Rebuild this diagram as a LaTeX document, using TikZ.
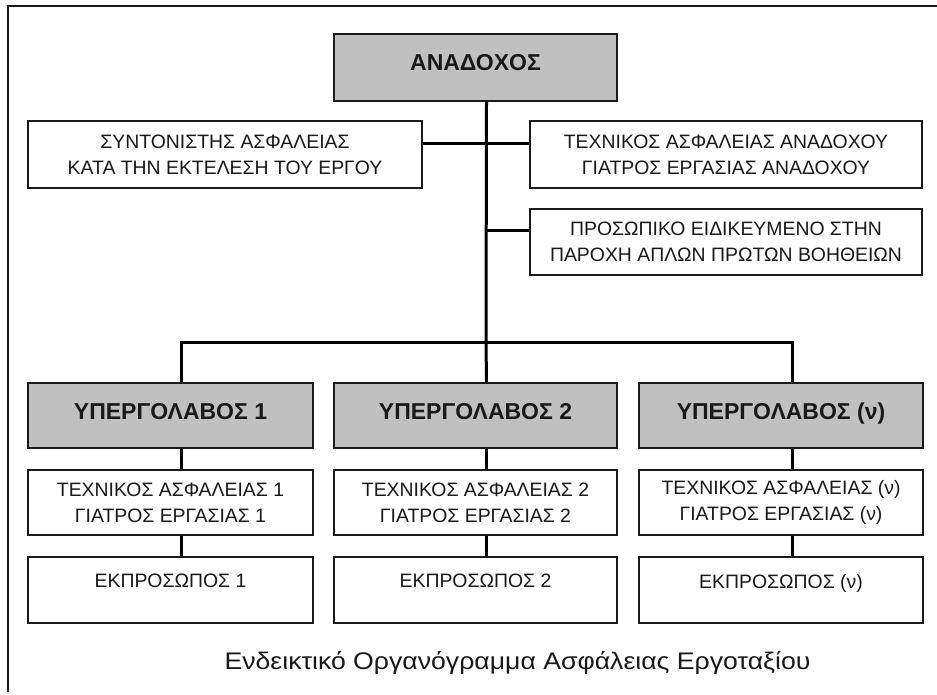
\documentclass[tikz,border=0pt]{standalone}
\usepackage{fontspec}
\setmainfont{Liberation Sans}
\usetikzlibrary{calc}
\definecolor{boxgray}{RGB}{192,192,192}
\definecolor{ink}{RGB}{25,25,25}
\begin{document}
\begin{tikzpicture}[x=1pt,y=-1pt,
  box/.style={draw=ink,line width=1.8pt,fill=white,text=ink,align=center,
    inner sep=0pt,font=\fontsize{19.4}{26}\selectfont},
  headbox/.style={box,fill=boxgray,font=\fontsize{23}{27}\selectfont\bfseries},
  conn/.style={draw=black,line width=3pt,line join=miter},
  frameline/.style={draw=ink,line width=1.4pt}]
\useasboundingbox (0,0) rectangle (937,695);
\draw[frameline] (8,692) -- (8,6) -- (945,6);
% top
\node[headbox,minimum width=283pt,minimum height=67pt] (A) at (475.5,67.5) {\raisebox{10pt}{ΑΝΑΔΟΧΟΣ}};
\node[box,minimum width=394pt,minimum height=67pt] (L) at (225,154.5) {ΣΥΝΤΟΝΙΣΤΗΣ ΑΣΦΑΛΕΙΑΣ\\ΚΑΤΑ ΤΗΝ ΕΚΤΕΛΕΣΗ ΤΟΥ ΕΡΓΟΥ};
\node[box,minimum width=392pt,minimum height=67pt] (R1) at (726,154.5) {ΤΕΧΝΙΚΟΣ ΑΣΦΑΛΕΙΑΣ ΑΝΑΔΟΧΟΥ\\ΓΙΑΤΡΟΣ ΕΡΓΑΣΙΑΣ ΑΝΑΔΟΧΟΥ};
\node[box,minimum width=392pt,minimum height=66pt] (R2) at (726,242) {ΠΡΟΣΩΠΙΚΟ ΕΙΔΙΚΕΥΜΕΝΟ ΣΤΗΝ\\ΠΑΡΟΧΗ ΑΠΛΩΝ ΠΡΩΤΩΝ ΒΟΗΘΕΙΩΝ};
% subcontractors
\node[headbox,minimum width=285pt,minimum height=65pt] (S1) at (170.5,415.5) {\raisebox{9pt}{ΥΠΕΡΓΟΛΑΒΟΣ 1}};
\node[headbox,minimum width=283pt,minimum height=65pt] (S2) at (475.5,415.5) {\raisebox{9pt}{ΥΠΕΡΓΟΛΑΒΟΣ 2}};
\node[headbox,minimum width=284pt,minimum height=65pt] (S3) at (781,415.5) {\raisebox{9pt}{ΥΠΕΡΓΟΛΑΒΟΣ (ν)}};
\node[box,minimum width=285pt,minimum height=65pt] (T1) at (170.5,502.5) {ΤΕΧΝΙΚΟΣ ΑΣΦΑΛΕΙΑΣ 1\\ΓΙΑΤΡΟΣ ΕΡΓΑΣΙΑΣ 1};
\node[box,minimum width=283pt,minimum height=65pt] (T2) at (475.5,502.5) {ΤΕΧΝΙΚΟΣ ΑΣΦΑΛΕΙΑΣ 2\\ΓΙΑΤΡΟΣ ΕΡΓΑΣΙΑΣ 2};
\node[box,minimum width=284pt,minimum height=65pt] (T3) at (781,502.5) {ΤΕΧΝΙΚΟΣ ΑΣΦΑΛΕΙΑΣ (ν)\\ΓΙΑΤΡΟΣ ΕΡΓΑΣΙΑΣ (ν)};
\node[box,minimum width=285pt,minimum height=66pt] (P1) at (170.5,590) {\raisebox{18pt}{ΕΚΠΡΟΣΩΠΟΣ 1}};
\node[box,minimum width=283pt,minimum height=66pt] (P2) at (475.5,590) {\raisebox{18pt}{ΕΚΠΡΟΣΩΠΟΣ 2}};
\node[box,minimum width=284pt,minimum height=66pt] (P3) at (781,590) {\raisebox{18pt}{ΕΚΠΡΟΣΩΠΟΣ (ν)}};
% caption
\node[text=ink,font=\fontsize{24}{28}\selectfont,inner sep=0pt] (C) at (517.5,663) {\scalebox{1.11}[1]{Ενδεικτικό Οργανόγραμμα Ασφάλειας Εργοταξίου}};
% connectors
\coordinate (t) at ([xshift=11pt]A.south);
\coordinate (bus) at (486,342);
\draw[conn] (t) -- (bus);
\draw[conn] ([yshift=11pt]L.east) -- ([yshift=11pt]R1.west);
\coordinate (r2c) at ([yshift=11pt]R2.west);
\draw[conn] (r2c) -- (r2c -| t);
\draw[conn] ([xshift=11pt]S1.north) |- ([xshift=11pt]S3.north |- bus) -- ([xshift=11pt]S3.north);
\draw[conn] (bus) -- ([xshift=11pt]S2.north);
\foreach \i in {1,2,3}{
  \draw[conn] ([xshift=11pt]S\i.south) -- ([xshift=11pt]T\i.north);
  \draw[conn] ([xshift=11pt]T\i.south) -- ([xshift=11pt]P\i.north);
}
\end{tikzpicture}
\end{document}
